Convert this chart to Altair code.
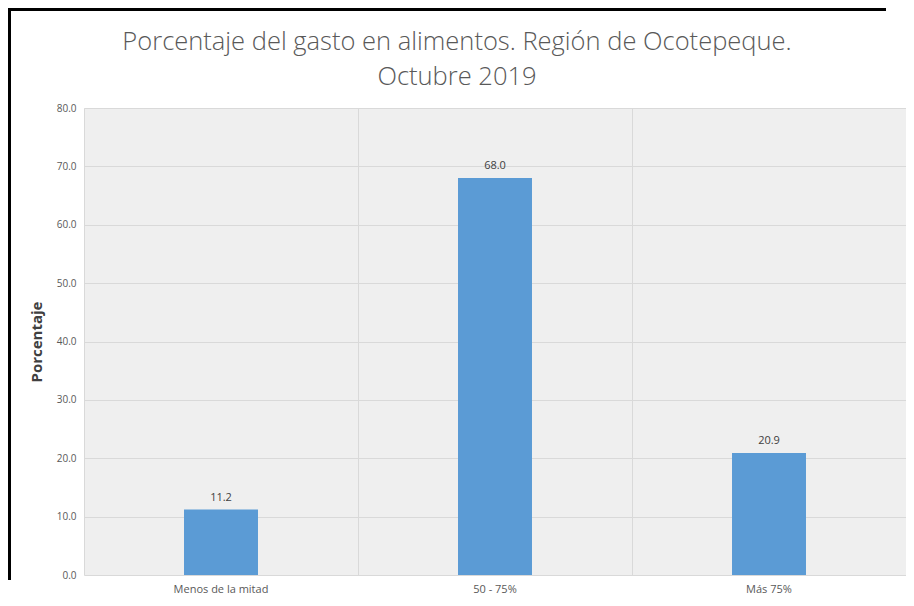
import altair as alt
import pandas as pd

categories = ["Menos de la mitad", "50 - 75%", "Más 75%"]
values = [11.2, 68.0, 20.9]
y_ticks = [0, 10, 20, 30, 40, 50, 60, 70, 80]
title_lines = ["Porcentaje del gasto en alimentos. Región de Ocotepeque.", "Octubre 2019"]

df = pd.DataFrame({"cat": categories, "val": values})
one = pd.DataFrame({"k": [0]})

PW, PH = 822, 467
FONT = "Open Sans"

x = alt.X("cat:N", sort=categories, title=None,
          scale=alt.Scale(paddingInner=0, paddingOuter=0),
          axis=alt.Axis(labelAngle=0, labelFontSize=11, labelColor="#595959", labelFont=FONT,
                        labelPadding=8, ticks=False, domain=False, grid=True,
                        gridColor="#d9d9d9", bandPosition=0))
y = alt.Y("val:Q", title="Porcentaje",
          scale=alt.Scale(domain=[0, 80]),
          axis=alt.Axis(values=y_ticks, format=".1f", labelFontSize=10, labelColor="#595959",
                        labelFont=FONT, labelPadding=8, ticks=False, domain=False,
                        gridColor="#d9d9d9", titleFontSize=15, titleFontWeight="bold",
                        titleColor="#404040", titleFont=FONT, titlePadding=12))

bars = alt.Chart(df).mark_bar(color="#5B9BD5", width=alt.RelativeBandSize(0.27)).encode(x=x, y=y)
labels = alt.Chart(df).mark_text(dy=-12, fontSize=11, color="#404040", font=FONT).encode(
    x=alt.X("cat:N", sort=categories), y="val:Q", text=alt.Text("val:Q", format=".1f"))

title1 = alt.Chart(one).mark_text(fontSize=25.5, font=FONT, fontWeight=300, color="#595959",
                                  baseline="middle", align="center").encode(
    x=alt.value(373), y=alt.value(-66), text=alt.value(title_lines[0]))
title2 = alt.Chart(one).mark_text(fontSize=25.5, font=FONT, fontWeight=300, color="#595959",
                                  baseline="middle", align="center").encode(
    x=alt.value(373), y=alt.value(-31), text=alt.value(title_lines[1]))

frame_top = alt.Chart(one).mark_rect(color="black").encode(
    x=alt.value(-76), x2=alt.value(PW - 20), y=alt.value(-100), y2=alt.value(-97))
frame_left = alt.Chart(one).mark_rect(color="black").encode(
    x=alt.value(-76), x2=alt.value(-73), y=alt.value(-100), y2=alt.value(PH + 5))

chart = alt.layer(bars, labels, title1, title2, frame_top, frame_left).properties(
    width=PW, height=PH,
    autosize=alt.AutoSizeParams(type="none"),
    padding={"left": 76, "top": 100, "right": 0, "bottom": 23},
    background="white",
).configure_view(fill="#efefef", stroke=None)

chart.save("out.html", embed_options={"renderer": "svg", "actions": False})
